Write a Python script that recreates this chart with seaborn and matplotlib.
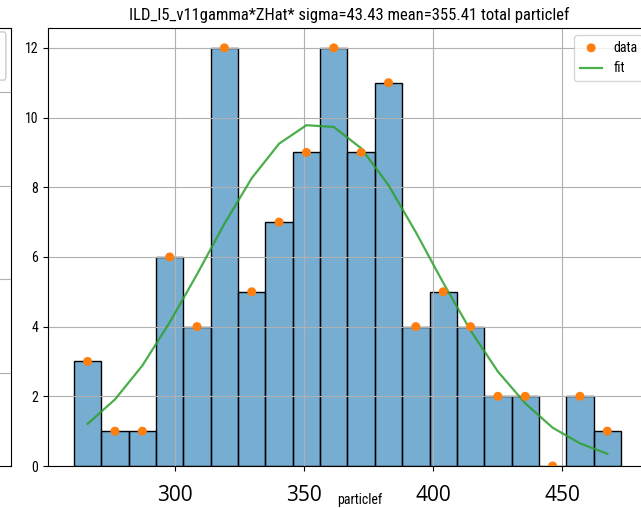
import numpy as np
import pandas as pd
import matplotlib
matplotlib.use("Agg")
import matplotlib.pyplot as plt
from matplotlib import font_manager as fm
from matplotlib.patches import FancyBboxPatch
import seaborn as sns

# Histogram of the particle spectrum with a Gaussian fit
counts = [3, 1, 1, 6, 4, 12, 5, 7, 9, 12, 9, 11, 4, 5, 4, 2, 2, 0, 2, 1]
fit_vals = [1.21, 1.91, 2.88, 4.12, 5.50, 6.95, 8.26, 9.25, 9.78, 9.73,
            9.12, 8.06, 6.71, 5.26, 3.89, 2.71, 1.80, 1.10, 0.65, 0.35]
bin_start = 260.85
bin_width = 10.6
title = "ILD_l5_v11gamma*ZHat* sigma=43.43 mean=355.41 total particlef"
x_label = "particlef"
x_ticks = [300, 350, 400, 450]
y_ticks = [0, 2, 4, 6, 8, 10, 12]

edges = bin_start + bin_width * np.arange(len(counts) + 1)
centers = (edges[:-1] + edges[1:]) / 2
df = pd.DataFrame({"x": centers, "count": counts, "fit": fit_vals})


def pick_narrow_font():
    """Return (family, stretch) of the narrowest sans face available."""
    entries = fm.fontManager.ttflist
    names = {f.name for f in entries}
    for cand in ["Liberation Sans Narrow", "Roboto Condensed",
                 "DejaVu Sans Condensed", "Noto Sans Condensed",
                 "Open Sans Condensed"]:
        if cand in names:
            return cand, "normal"
    for fam in ["DejaVu Sans", "Noto Sans", "Open Sans", "Roboto"]:
        for f in entries:
            if f.name == fam and str(f.stretch) in ("condensed",
                                                    "semi-condensed"):
                return fam, "condensed"
    return "DejaVu Sans", "normal"


narrow_family, narrow_stretch = pick_narrow_font()
plt.rcParams["font.family"] = [narrow_family, "DejaVu Sans"]
plt.rcParams["font.stretch"] = narrow_stretch

W, H = 641, 508
fig = plt.figure(figsize=(W / 100, H / 100), dpi=100)

# neighbouring panel, only its right edge is in view
ax0 = fig.add_axes([-0.30, 42 / H, 0.30 + 11 / W, 438 / H])
ax0.set_ylim(0, 4.69)
ax0.set_yticks([1, 2, 3, 4])
ax0.set_xticks([])
ax0.tick_params(left=False, labelleft=False)
ax0.grid(True, axis="y")
ax0.add_patch(FancyBboxPatch((0.65, 0.881), 0.325, 0.11,
                             boxstyle="round,pad=0,rounding_size=0.01",
                             transform=ax0.transAxes, facecolor="white",
                             edgecolor="0.8", linewidth=1.0, zorder=5))

ax_left, ax_right = 48, 650
ax = fig.add_axes([ax_left / W, 42 / H, (ax_right - ax_left) / W, 438 / H])
sns.histplot(data=df, x="x", weights="count", bins=[float(e) for e in edges],
             ax=ax, color="#1f77b4", alpha=0.6, edgecolor="black",
             linewidth=1.0)
sns.scatterplot(data=df, x="x", y="count", ax=ax, color="C1", s=42,
                edgecolor="none", label="data", zorder=3)
sns.lineplot(data=df, x="x", y="fit", ax=ax, color="C2", alpha=0.85,
             linewidth=1.6, label="fit")

ax.set_xlim(250.8, 484.1)
ax.set_ylim(0, 12.57)
ax.set_xticks(x_ticks)
ax.set_yticks(y_ticks)
ax.grid(True)
ax.tick_params(axis="x", pad=10.5)
for lab in ax.get_xticklabels():
    lab.set_fontfamily("Open Sans")
    lab.set_fontstretch("normal")
    lab.set_fontsize(15)
ax.tick_params(axis="y", labelsize=10)
ax.set_ylabel("")
ax.set_xlabel(x_label, fontsize=10)
ax.xaxis.label.set_va("bottom")
ax.xaxis.set_label_coords((360 - ax_left) / (ax_right - ax_left), -0.0925)
ax.legend(loc="upper right", fontsize=10, handlelength=1.6)

# title sized to span about 440 px
t = ax.set_title(title, fontsize=12)
fig.canvas.draw()
tw = t.get_window_extent().width
if abs(tw - 440) > 15:
    t.set_fontsize(12 * 440 / tw)

fig.savefig("out.png", dpi=100)
